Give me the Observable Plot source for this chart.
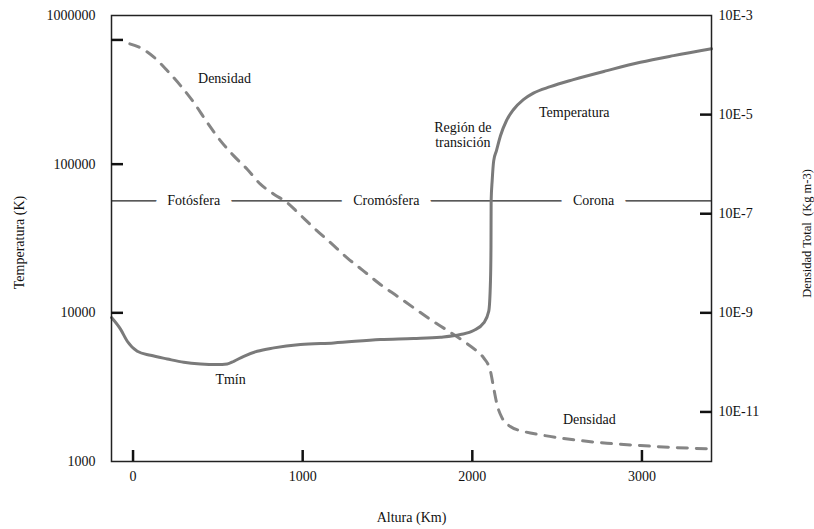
<!DOCTYPE html>
<html><head><meta charset="utf-8">
<script src="https://cdn.jsdelivr.net/npm/d3@7"></script>
<script src="https://cdn.jsdelivr.net/npm/@observablehq/plot@0.6"></script>
<style>body{margin:0;background:#fff}</style>
</head><body><div id="chart"></div>
<script>
// Temperature profile (altitude km, temperature K)
const tempAltitude = [-127, -74, -34, 25, 103, 202, 299, 398, 496, 555, 594, 653, 732, 830, 987, 1183, 1458, 1653, 1812, 1930, 2008, 2067, 2097, 2107, 2110, 2111, 2117, 2126, 2142, 2166, 2201, 2242, 2301, 2360, 2460, 2596, 2794, 2991, 3187, 3410];
const tempValues = [9300, 7770, 6440, 5515, 5183, 4894, 4650, 4528, 4486, 4528, 4721, 5104, 5515, 5810, 6125, 6276, 6616, 6718, 6855, 7145, 7603, 8550, 10260, 16350, 27400, 56600, 77300, 105300, 123000, 155300, 195900, 232300, 271600, 300400, 332200, 370300, 425600, 484300, 537000, 597000];

// Density profile (altitude km, total density kg m-3)
const densAltitude = [-19, 44, 123, 202, 280, 358, 437, 516, 594, 673, 751, 830, 909, 972, 1065, 1164, 1262, 1360, 1458, 1557, 1655, 1753, 1851, 1949, 2028, 2067, 2107, 2126, 2146, 2176, 2224, 2303, 2401, 2598, 2794, 2991, 3187, 3403];
const densValues = [2.68e-4, 2.22e-4, 1.44e-4, 7.7e-5, 3.84e-5, 1.76e-5, 6.95e-6, 2.96e-6, 1.47e-6, 7.9e-7, 3.94e-7, 2.48e-7, 1.67e-7, 1.05e-7, 5.22e-8, 2.60e-8, 1.29e-8, 6.95e-9, 3.74e-9, 2.17e-9, 1.26e-9, 7.33e-10, 4.46e-10, 2.67e-10, 1.67e-10, 1.23e-10, 6.61e-11, 3.03e-11, 1.40e-11, 7.50e-12, 5.09e-12, 4.04e-12, 3.46e-12, 2.74e-12, 2.34e-12, 2.10e-12, 1.92e-12, 1.80e-12];

// Axes
const xTicks = [0, 1000, 2000, 3000];
const leftTickLabels = [1000, 10000, 100000, 1000000];
const leftTickMarks = [685000, 100000, 10000];
const rightTickValues = [1e-3, 1e-5, 1e-7, 1e-9, 1e-11];
const rightTickText = ["10E-3", "10E-5", "10E-7", "10E-9", "10E-11"];
const rightTickMarks = [1e-5, 1e-7, 1e-9, 1e-11];
const densDomain = [1e-12, 1e-3];
const tempDomain = [1000, 1000000];
const xDomain = [-127, 3410];

// Regions
const regionNames = ["Fotósfera", "Cromósfera", "Corona"];
const regionCenters = [358, 1493, 2715];
const regionBoundaryTemp = 56600;

// Annotations
const annotationTexts = ["Densidad", "Tmín", "Región de\ntransición", "Temperatura", "Densidad"];
const annotationX = [539, 575, 1944, 2601, 2690];
const annotationY = [380000, 3557, 157800, 222700, 1910];

// map density (right axis) onto temperature (left axis) log scale
const lt0 = Math.log10(tempDomain[0]), lt1 = Math.log10(tempDomain[1]);
const ld0 = Math.log10(densDomain[0]), ld1 = Math.log10(densDomain[1]);
const toT = rho => Math.pow(10, lt0 + (Math.log10(rho) - ld0) * (lt1 - lt0) / (ld1 - ld0));

const chart = Plot.plot({
  width: 814,
  height: 529,
  marginLeft: 111,
  marginRight: 103,
  marginTop: 15,
  marginBottom: 68,
  style: {fontFamily: "'Liberation Serif', 'DejaVu Serif', serif", fontSize: "14px", color: "#111", background: "#fff"},
  x: {domain: xDomain},
  y: {type: "log", domain: tempDomain},
  marks: [
    Plot.ruleY([regionBoundaryTemp], {stroke: "#222", strokeWidth: 1.2}),
    Plot.text(regionNames, {x: regionCenters, y: regionNames.map(() => regionBoundaryTemp), text: d => d, fill: "#111", stroke: "#fff", strokeWidth: 24, paintOrder: "stroke", strokeLinejoin: "round"}),
    Plot.line(densValues, {x: densAltitude, y: densValues.map(toT), stroke: "#858585", strokeWidth: 3, strokeDasharray: "10,9", curve: "monotone-x"}),
    Plot.line(tempValues, {x: tempAltitude, y: tempValues, stroke: "#7a7a7a", strokeWidth: 3, curve: "monotone-x"}),
    Plot.text(annotationTexts, {x: annotationX, y: annotationY, text: d => d, fill: "#111", lineHeight: 1.05}),
    Plot.frame({stroke: "#222", strokeWidth: 1.5}),
    Plot.axisY(leftTickMarks, {anchor: "left", tickSize: -12, strokeWidth: 2.5, stroke: "#111", tickFormat: () => "", label: null}),
    Plot.axisY(leftTickLabels, {anchor: "left", tickSize: 0, tickPadding: 16, tickFormat: d3.format("d"), label: null}),
    Plot.axisY(rightTickMarks.map(toT), {anchor: "right", tickSize: -12, strokeWidth: 2.5, stroke: "#111", tickFormat: () => "", label: null}),
    Plot.text(rightTickText, {frameAnchor: "right", y: rightTickValues.map(toT), text: d => d, textAnchor: "start", dx: 7, fill: "#111"}),
    Plot.axisX(xTicks, {anchor: "bottom", tickSize: -11, strokeWidth: 2.5, stroke: "#111", tickFormat: () => "", label: null}),
    Plot.axisX(xTicks, {anchor: "bottom", tickSize: 0, tickPadding: 10, tickFormat: d3.format("d"), label: null}),
    Plot.text(["Temperatura (K)"], {frameAnchor: "left", dx: -92, dy: 4, rotate: -90, textAnchor: "middle", text: d => d, fill: "#111"}),
    Plot.text(["Densidad Total  (Kg m-3)"], {frameAnchor: "right", dx: 95, dy: -5, rotate: -90, textAnchor: "middle", fontSize: 12.5, text: d => d, fill: "#111"}),
    Plot.text(["Altura (Km)"], {frameAnchor: "bottom", dy: 60, text: d => d, fill: "#111"})
  ]
});
document.getElementById("chart").appendChild(chart);
</script>
</body></html>
